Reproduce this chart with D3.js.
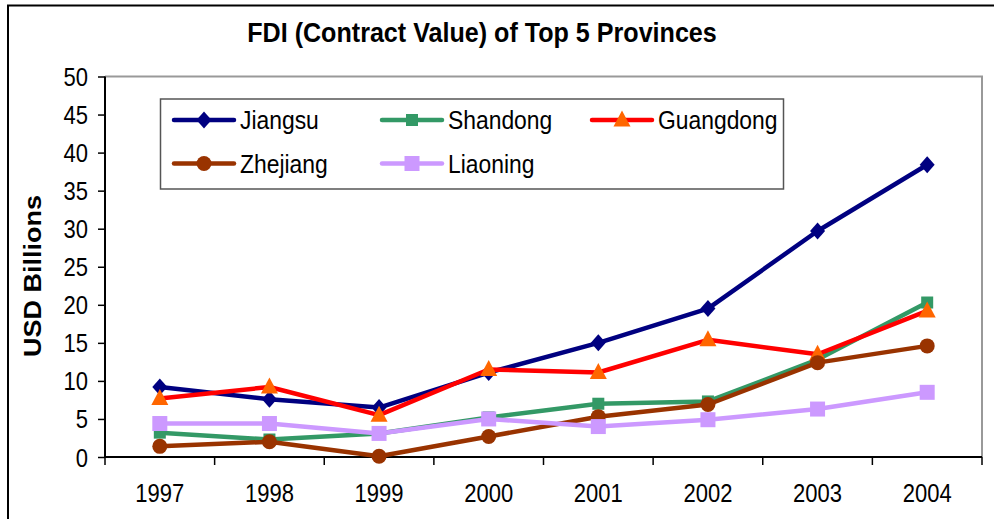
<!DOCTYPE html>
<html>
<head>
<meta charset="utf-8">
<script src="https://cdn.jsdelivr.net/npm/d3@7"></script>
<style>
  body { margin: 0; background: #fff; }
  text { font-family: "Liberation Sans", Arial, sans-serif; }
</style>
</head>
<body>
<div id="chart"></div>
<script>
const years = ["1997", "1998", "1999", "2000", "2001", "2002", "2003", "2004"]
const yTicks = [0, 5, 10, 15, 20, 25, 30, 35, 40, 45, 50]

const jiangsu   = [9.2, 7.6, 6.5, 11.1, 15.0, 19.5, 29.7, 38.4]
const shandong  = [3.2, 2.3, 3.1, 5.2, 7.0, 7.3, 12.8, 20.3]
const guangdong = [7.7, 9.2, 5.5, 11.5, 11.1, 15.4, 13.5, 19.2]
const zhejiang  = [1.4, 2.0, 0.1, 2.7, 5.3, 6.9, 12.4, 14.6]
const liaoning  = [4.4, 4.4, 3.1, 5.0, 4.0, 4.9, 6.3, 8.5]

const seriesNames = ["Jiangsu", "Shandong", "Guangdong", "Zhejiang", "Liaoning"]
const seriesValues = [jiangsu, shandong, guangdong, zhejiang, liaoning]

// line colour, marker colour, marker type
const styles = {
  Jiangsu:   { line: "#000080", mark: "#000080", shape: "diamond" },
  Shandong:  { line: "#339966", mark: "#339966", shape: "square", size: 12 },
  Guangdong: { line: "#ff0000", mark: "#ff6600", shape: "triangle" },
  Zhejiang:  { line: "#993300", mark: "#993300", shape: "circle" },
  Liaoning:  { line: "#cc99ff", mark: "#cc99ff", shape: "square", size: 15 }
}

const width = 994, height = 519
const sx = 0.88 // text in the picture is squeezed sideways
const margin = { left: 105, right: 12, top: 76.5, bottom: 62 }

const svg = d3.select("#chart").append("svg")
  .attr("width", width)
  .attr("height", height)

const x = d3.scaleBand()
  .domain(years)
  .range([margin.left, width - margin.right])
const y = d3.scaleLinear()
  .domain([0, 50])
  .range([height - margin.bottom, margin.top])

function squeeze(sel, tx, ty, rot, k) {
  sel.attr("transform", `translate(${tx},${ty}) scale(${k || sx},1)` + (rot ? ` rotate(${rot})` : ""))
}

function marker(g, st, cx, cy) {
  if (st.shape === "diamond") {
    g.append("path").attr("d", `M${cx},${cy - 8.5}L${cx + 7.5},${cy}L${cx},${cy + 8.5}L${cx - 7.5},${cy}Z`)
      .attr("fill", st.mark)
  } else if (st.shape === "square") {
    const s = st.size
    g.append("rect").attr("x", cx - s / 2).attr("y", cy - s / 2)
      .attr("width", s).attr("height", s).attr("fill", st.mark)
  } else if (st.shape === "triangle") {
    g.append("path").attr("d", `M${cx},${cy - 9.5}L${cx + 8.5},${cy + 6.5}L${cx - 8.5},${cy + 6.5}Z`)
      .attr("fill", st.mark)
  } else {
    g.append("circle").attr("cx", cx).attr("cy", cy).attr("r", 7.5).attr("fill", st.mark)
  }
}

// outer frame
svg.append("path")
  .attr("d", `M8,${height}V5.5H${width}`)
  .attr("fill", "none")
  .attr("stroke", "#000")
  .attr("stroke-width", 2)

// title
svg.append("text")
  .attr("text-anchor", "middle")
  .attr("font-size", 27)
  .attr("font-weight", "bold")
  .text("FDI (Contract Value) of Top 5 Provinces")
  .call(squeeze, 482, 42, 0, 0.93)

// plot frame top/right
svg.append("path")
  .attr("d", `M${margin.left},${margin.top}H${width - margin.right}V${height - margin.bottom}`)
  .attr("fill", "none")
  .attr("stroke", "#999")
  .attr("stroke-width", 2)

// y axis
const yAxis = svg.append("g")
  .attr("transform", `translate(${margin.left},0)`)
  .call(d3.axisLeft(y).tickValues(yTicks).tickSize(7).tickPadding(10))
yAxis.select(".domain").attr("stroke-width", 2).attr("d", `M0,${y(0)}V${y(50)}`)
yAxis.selectAll(".tick line").attr("stroke-width", 1.5)
yAxis.selectAll(".tick text")
  .attr("font-size", 25)
  .attr("dy", "0.36em")
  .attr("font-family", "Liberation Sans, Arial, sans-serif")
  .attr("x", 0)
  .attr("transform", `translate(-17,0) scale(${sx},1)`)

// x axis
const xAxis = svg.append("g")
  .attr("transform", `translate(0,${y(0)})`)
xAxis.append("line")
  .attr("x1", margin.left).attr("x2", width - margin.right)
  .attr("stroke", "#000").attr("stroke-width", 2)
xAxis.selectAll("line.tk")
  .data(years.concat(["end"]))
  .join("line")
  .attr("class", "tk")
  .attr("x1", d => d === "end" ? x.range()[1] : x(d))
  .attr("x2", d => d === "end" ? x.range()[1] : x(d))
  .attr("y1", 0).attr("y2", 8)
  .attr("stroke", "#000").attr("stroke-width", 1.5)
xAxis.selectAll("text")
  .data(years)
  .join("text")
  .attr("text-anchor", "middle")
  .attr("font-size", 25)
  .text(d => d)
  .each(function (d) {
    d3.select(this).call(squeeze, x(d) + x.bandwidth() / 2, 45)
  })

// y title
svg.append("text")
  .attr("text-anchor", "middle")
  .attr("font-size", 27)
  .attr("font-weight", "bold")
  .text("USD Billions")
  .call(squeeze, 41, 276, -90)

// series
const line = d3.line()
  .x((d, i) => x(years[i]) + x.bandwidth() / 2)
  .y(d => y(d))

const seriesG = svg.append("g")
seriesNames.forEach((name, k) => {
  const st = styles[name]
  const g = seriesG.append("g")
  g.append("path")
    .datum(seriesValues[k])
    .attr("d", line)
    .attr("fill", "none")
    .attr("stroke", st.line)
    .attr("stroke-width", 4.5)
    .attr("stroke-linejoin", "round")
  seriesValues[k].forEach((v, i) => {
    marker(g, st, x(years[i]) + x.bandwidth() / 2, y(v))
  })
})

// legend
const legend = svg.append("g")
legend.append("rect")
  .attr("x", 160.5).attr("y", 99)
  .attr("width", 623).attr("height", 90)
  .attr("fill", "#fff")
  .attr("stroke", "#555")
  .attr("stroke-width", 1.5)

const legendCols = [174, 382, 592]
const legendRows = [120, 163.5]
seriesNames.forEach((name, k) => {
  const st = styles[name]
  const lx = legendCols[k % 3]
  const ly = legendRows[Math.floor(k / 3)]
  const g = legend.append("g")
  g.append("line")
    .attr("x1", lx).attr("x2", lx + 60)
    .attr("y1", ly).attr("y2", ly)
    .attr("stroke", st.line).attr("stroke-width", 4.5)
    .attr("stroke-linecap", "round")
  marker(g, st, lx + 30, ly)
  g.append("text")
    .attr("font-size", 26)
    .attr("dy", "0.36em")
    .text(name)
    .call(squeeze, lx + 66, ly)
})
</script>
</body>
</html>
